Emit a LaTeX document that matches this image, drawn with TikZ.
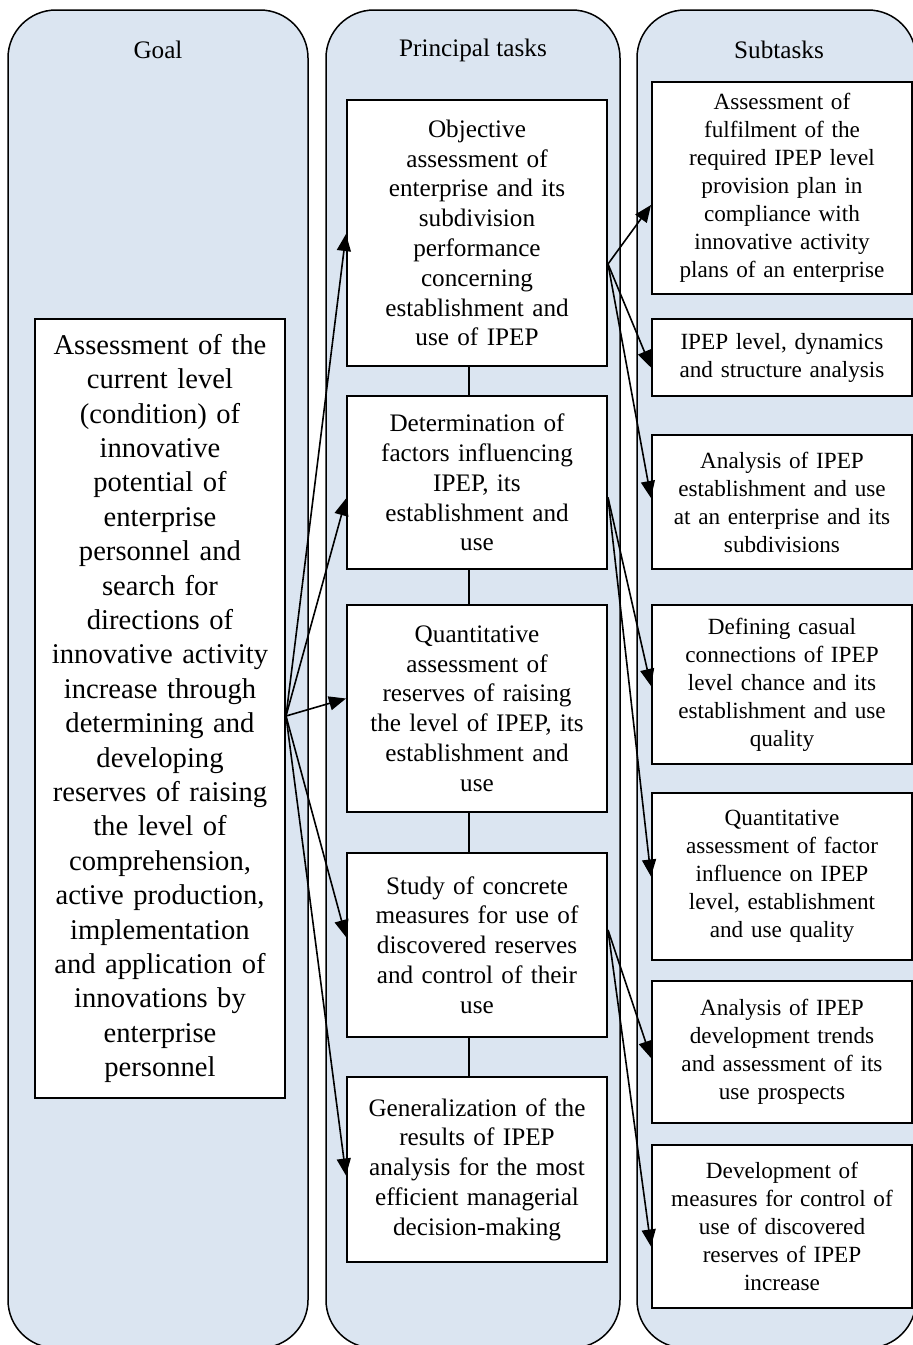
\documentclass[tikz,border=0pt]{standalone}
\usepackage{fontspec}
\setmainfont{Liberation Serif}
\usetikzlibrary{arrows.meta,calc}
\definecolor{colfill}{RGB}{219,229,241}

\begin{document}
\begin{tikzpicture}[x=0.5pt,y=-0.5pt,
  column/.style={draw=black,line width=0.75pt,fill=colfill,rounded corners=24pt},
  header/.style={font=\fontsize{12.6}{14.8}\selectfont},
  goalbox/.style={draw,line width=1pt,fill=white,inner sep=2pt,text width=121pt,minimum width=125pt,align=center,font=\fontsize{14.3}{17.2}\selectfont},
  taskbox/.style={draw,line width=1pt,fill=white,inner sep=2pt,text width=126pt,minimum width=130pt,align=center,font=\fontsize{12.6}{14.9}\selectfont},
  subbox/.style={draw,line width=1pt,fill=white,inner sep=2pt,text width=126pt,minimum width=130pt,align=center,font=\fontsize{11.6}{14}\selectfont},
  link/.style={line width=0.8pt,-{Triangle[length=8.5pt,width=7pt]}}]
\useasboundingbox (0,0) rectangle (913,1345);
\clip (0,0) rectangle (913,1345);
\draw[column] (8,10) rectangle (308,1348);
\draw[column] (326,10) rectangle (620,1348);
\draw[column] (637,10) rectangle (916,1348);
\node[header] (hgoal) at (158,50) {Goal};
\node[header] (htask) at (473,50) {Principal tasks};
\node[header] (hsub) at (779,50) {Subtasks};

\node[goalbox,minimum height=389.5pt] (goal) at (160,708.5) {Assessment of the\\ current level\\ (condition) of\\ innovative\\ potential of\\ enterprise\\ personnel and\\ search for\\ directions of\\ innovative activity\\ increase through\\ determining and\\ developing\\ reserves of raising\\ the level of\\ comprehension,\\ active production,\\ implementation\\ and application of\\ innovations by\\ enterprise\\ personnel};

\node[taskbox,minimum height=133pt] (m1) at (477,233) {Objective\\ assessment of\\ enterprise and its\\ subdivision\\ performance\\ concerning\\ establishment and\\ use of IPEP};
\node[taskbox,minimum height=86.5pt] (m2) at (477,482.5) {Determination of\\ factors influencing\\ IPEP, its\\ establishment and\\ use};
\node[taskbox,minimum height=103.5pt] (m3) at (477,708.5) {Quantitative\\ assessment of\\ reserves of raising\\ the level of IPEP, its\\ establishment and\\ use};
\node[taskbox,minimum height=92pt] (m4) at (477,945) {Study of concrete\\ measures for use of\\ discovered reserves\\ and control of their\\ use};
\node[taskbox,minimum height=92.5pt] (m5) at (477,1169.5) {Generalization of the\\ results of IPEP\\ analysis for the most\\ efficient managerial\\ decision-making};

\node[subbox,minimum height=106pt] (r1) at (782,188) {Assessment of\\ fulfilment of the\\ required IPEP level\\ provision plan in\\ compliance with\\ innovative activity\\ plans of an enterprise};
\node[subbox,minimum height=38.5pt] (r2) at (782,357.5) {IPEP level, dynamics\\ and structure analysis};
\node[subbox,minimum height=67pt] (r3) at (782,502) {Analysis of IPEP\\ establishment and use\\ at an enterprise and its\\ subdivisions};
\node[subbox,minimum height=79.5pt] (r4) at (782,684.5) {Defining casual\\ connections of IPEP\\ level chance and its\\ establishment and use\\ quality};
\node[subbox,minimum height=83.5pt] (r5) at (782,876.5) {Quantitative\\ assessment of factor\\ influence on IPEP\\ level, establishment\\ and use quality};
\node[subbox,minimum height=71pt] (r6) at (782,1052) {Analysis of IPEP\\ development trends\\ and assessment of its\\ use prospects};
\node[subbox,minimum height=81.5pt] (r7) at (782,1226.5) {Development of\\ measures for control of\\ use of discovered\\ reserves of IPEP\\ increase};

\foreach \a/\b in {m1/m2,m2/m3,m3/m4,m4/m5}
  \draw[line width=0.75pt] ($(\a.south)+(-8,0)$) -- ($(\b.north)+(-8,0)$);

\coordinate (g) at ($(goal.east)+(0,7.5)$);
\foreach \n/\dy in {m1/1,m2/16,m3/-10,m4/-8,m5/6}
  \draw[link] (g) -- ($(\n.west)+(0,\dy)$);

\coordinate (o1) at ($(m1.east)+(0,31)$);
\coordinate (o2) at ($(m2.east)+(0,15)$);
\coordinate (o4) at ($(m4.east)+(0,-15)$);
\foreach \n/\dy in {r1/17,r2/10,r3/-4}
  \draw[link] (o1) -- ($(\n.west)+(0,\dy)$);
\foreach \n/\dy in {r4/1.5,r5/0}
  \draw[link] (o2) -- ($(\n.west)+(0,\dy)$);
\foreach \n/\dy in {r6/6,r7/20}
  \draw[link] (o4) -- ($(\n.west)+(0,\dy)$);
\end{tikzpicture}
\end{document}
